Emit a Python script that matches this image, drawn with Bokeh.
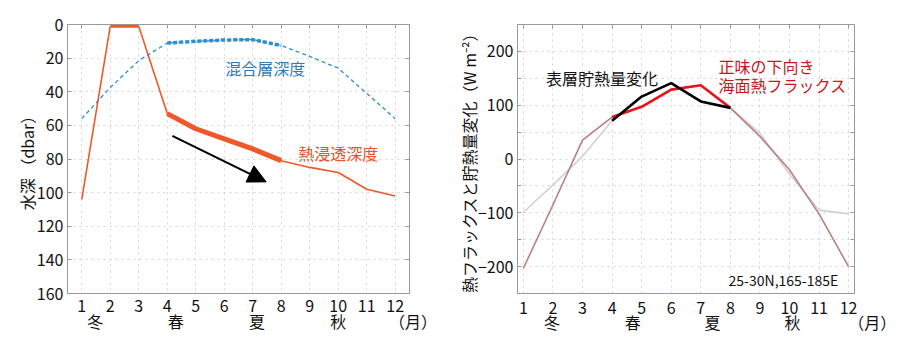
from bokeh.plotting import figure
from bokeh.layouts import row
from bokeh.models import LinearAxis, FixedTicker, Range1d, Arrow, NormalHead, Label
from bokeh.embed import file_html
from bokeh.resources import INLINE

FONT = "Noto Sans CJK JP"

# ---------------- data ----------------
months = [1, 2, 3, 4, 5, 6, 7, 8, 9, 10, 11, 12]
month_labels = [str(m) for m in months]
seasons = ["冬", "春", "夏", "秋"]
season_pos_left = [1.47, 4.3, 7.15, 10.0]
season_pos_right = [1.97, 4.7, 7.4, 10.1]
month_unit = "（月）"

# left panel: depth (dbar)
heat_penetration_depth = [104, 1, 1, 53, 62, 68, 74, 81, 85, 88, 98, 102]
mixed_layer_depth = [56, 37.5, 21.5, 11, 10, 9.2, 9, 12.5, 19, 26, 41, 56]
depth_ticks = [0, 20, 40, 60, 80, 100, 120, 140, 160]

# right panel: W m-2
net_surface_flux = [-203, -85, 35, 78, 97, 129, 137, 95, 42, -20, -102, -200]
storage_change = [-99, -48, 5, 71, 116, 141, 107, 95, 48, -28, -95, -102]
flux_ticks = [-200, -100, 0, 100, 200]
flux_minor_ticks = [-250, -150, -50, 50, 150, 250]

GRID = "#d4d4d4"
FRAME = "#9a9a9a"
INK = "#111111"


def base_style(p, yticks, yminor, season_pos, unit_pos, unit_pad, month_standoff, line_h):
    yticker = FixedTicker(ticks=yticks, minor_ticks=yminor)
    p.outline_line_color = FRAME
    p.outline_line_width = 1
    p.background_fill_color = "white"
    p.border_fill_color = "white"

    # bottom axis: month numbers on the first line, seasons and unit on the second line
    labels = {m: s for m, s in zip(months, month_labels)}
    for pos, s in zip(season_pos, seasons):
        labels[pos] = (labels[pos] if pos in labels else "") + "\n" + s
    labels[unit_pos] = "\n" + unit_pad + month_unit
    xa = p.xaxis[0]
    xa.ticker = FixedTicker(ticks=sorted(labels.keys()))
    xa.major_label_overrides = labels
    xa.major_label_text_line_height = line_h
    xa.major_tick_line_color = None

    ya = p.yaxis[0]
    ya.ticker = yticker
    for ax in (xa, ya):
        ax.axis_line_color = FRAME
        ax.major_tick_in = 4
        ax.major_tick_out = 0
        ax.minor_tick_in = 4
        ax.minor_tick_out = 0
        ax.minor_tick_line_color = FRAME
        ax.major_label_text_font = FONT
        ax.major_label_text_font_size = "16px"
        ax.major_label_text_color = INK
        ax.axis_label_text_font = FONT
        ax.axis_label_text_font_size = "16px"
        ax.axis_label_text_font_style = "normal"
        ax.axis_label_text_color = INK
    ya.major_tick_line_color = FRAME
    xa.minor_tick_line_color = None
    xa.major_label_standoff = month_standoff
    ya.major_label_standoff = 4

    p.xgrid.ticker = FixedTicker(ticks=months)
    for g in (p.xgrid[0], p.ygrid[0]):
        g.grid_line_color = GRID
        g.grid_line_dash = "dotted"
        g.grid_line_width = 1
    p.ygrid[0].minor_grid_line_color = GRID
    p.ygrid[0].minor_grid_line_dash = "dotted"

    # boxed inward ticks on the top and right edges
    top = LinearAxis(ticker=FixedTicker(ticks=months),
                     major_label_overrides={m: "" for m in months},
                     major_label_text_font_size="8px",
                     major_tick_in=4, major_tick_out=0, major_tick_line_color=FRAME,
                     axis_line_color=None, major_label_standoff=0, minor_tick_line_color=None)
    p.add_layout(top, "above")
    right = LinearAxis(ticker=FixedTicker(ticks=yticks, minor_ticks=yminor),
                       major_label_overrides={t: "" for t in yticks},
                       major_label_text_font_size="8px",
                       major_tick_in=4, major_tick_out=0, minor_tick_in=4, minor_tick_out=0,
                       major_tick_line_color=FRAME, minor_tick_line_color=FRAME,
                       axis_line_color=None, major_label_standoff=0)
    p.add_layout(right, "right")


# ---------------- left panel ----------------
p1 = figure(width=440, height=338, output_backend="svg", toolbar_location=None,
            x_range=Range1d(0.5, 12.5), y_range=Range1d(160, 0),
            min_border_left=67, min_border_right=31, min_border_top=24, min_border_bottom=40)
base_style(p1, depth_ticks, [], season_pos_left, 12.5, "　  ", -1, 0.7)
p1.yaxis[0].axis_label = "水深 （dbar）"
p1.yaxis[0].axis_label_standoff = -5

ORANGE = "#f0582a"
BLUE = "#2d8fd5"
p1.line(months, heat_penetration_depth, line_color=ORANGE, line_width=1.6)
p1.line(months[1:3], heat_penetration_depth[1:3], line_color=ORANGE, line_width=3)
p1.line(months[3:8], heat_penetration_depth[3:8], line_color=ORANGE, line_width=5)
p1.line(months, mixed_layer_depth, line_color=BLUE, line_width=1.3, line_dash="4 3")
p1.line(months[3:8], mixed_layer_depth[3:8], line_color=BLUE, line_width=3.5, line_dash="4 2")

p1.add_layout(Arrow(end=NormalHead(size=18, fill_color="black", line_color="black"),
                    x_start=4.18, y_start=66.3, x_end=7.47, y_end=93.6,
                    line_color="black", line_width=2))

p1.add_layout(Label(x=7.44, y=25.7, text="混合層深度", text_font=FONT, text_font_size="16px",
                    text_color="#2b7bbf", text_align="center", text_baseline="middle"))
p1.add_layout(Label(x=10.0, y=76.6, text="熱浸透深度", text_font=FONT, text_font_size="16px",
                    text_color="#e8502a", text_align="center", text_baseline="middle"))

# ---------------- right panel ----------------
p2 = figure(width=459, height=338, output_backend="svg", toolbar_location=None,
            x_range=Range1d(0.8, 12.2), y_range=Range1d(-250, 250),
            min_border_left=77, min_border_right=45, min_border_top=22, min_border_bottom=45)
base_style(p2, flux_ticks, flux_minor_ticks, season_pos_right, 12.2, "　　 ", 1, 0.63)
p2.yaxis[0].axis_label = "熱フラックスと貯熱量変化（W m⁻²）"
p2.yaxis[0].axis_label_standoff = -6

p2.line(months, storage_change, line_color="#d2d2d2", line_width=1.6)
p2.line(months, net_surface_flux, line_color="#bc7f7f", line_width=1.6)
p2.line(months[3:8], net_surface_flux[3:8], line_color="#e8141c", line_width=2.6)
p2.line(months[3:8], storage_change[3:8], line_color="black", line_width=2.6)

p2.add_layout(Label(x=3.66, y=150, text="表層貯熱量変化", text_font=FONT, text_font_size="16px",
                    text_color=INK, text_align="center", text_baseline="middle"))
p2.add_layout(Label(x=7.6, y=172, text="正味の下向き", text_font=FONT, text_font_size="16px",
                    text_color="#c8161d", text_align="left", text_baseline="middle"))
p2.add_layout(Label(x=7.6, y=137, text="海面熱フラックス", text_font=FONT, text_font_size="16px",
                    text_color="#c8161d", text_align="left", text_baseline="middle"))
p2.add_layout(Label(x=11.65, y=-225, text="25-30N,165-185E", text_font=FONT, text_font_size="14px",
                    text_color=INK, text_align="right", text_baseline="middle"))

layout = row(p1, p2)
open("out.html", "w").write(file_html(layout, INLINE))
